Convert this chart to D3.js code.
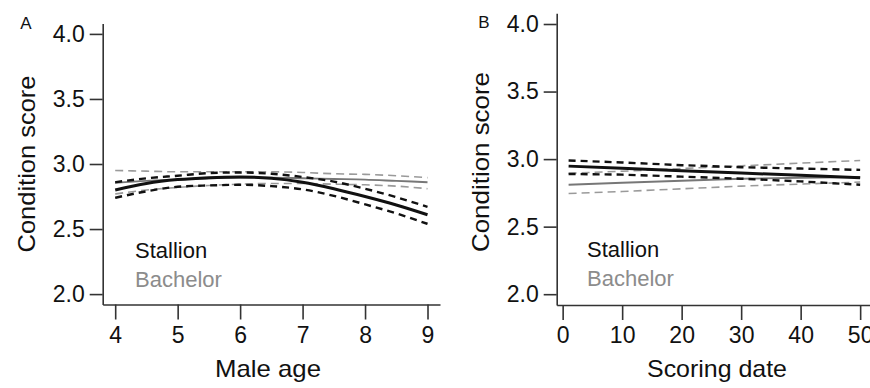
<!DOCTYPE html>
<html>
<head>
<meta charset="utf-8">
<script src="https://cdn.jsdelivr.net/npm/d3@7"></script>
<style>
  body { margin: 0; background: #fff; }
  svg text { font-family: "Liberation Sans", Arial, sans-serif; }
</style>
</head>
<body>
<div id="chart"></div>
<script>
// Panel A: condition score vs male age
const ageX = [4, 4.5, 5, 5.5, 6, 6.5, 7, 7.5, 8, 8.5, 9];
const stallionAge   = [2.80, 2.85, 2.88, 2.895, 2.90, 2.89, 2.86, 2.81, 2.75, 2.685, 2.61];
const stallionAgeHi = [2.86, 2.89, 2.91, 2.93, 2.935, 2.925, 2.90, 2.865, 2.81, 2.745, 2.67];
const stallionAgeLo = [2.74, 2.79, 2.825, 2.835, 2.84, 2.83, 2.805, 2.755, 2.69, 2.62, 2.54];
const bachelorAge   = [2.855, 2.87, 2.88, 2.89, 2.895, 2.895, 2.89, 2.885, 2.88, 2.87, 2.86];
const bachelorAgeHi = [2.95, 2.945, 2.94, 2.94, 2.94, 2.94, 2.935, 2.925, 2.92, 2.91, 2.895];
const bachelorAgeLo = [2.77, 2.80, 2.82, 2.835, 2.845, 2.85, 2.85, 2.845, 2.84, 2.83, 2.81];

// Panel B: condition score vs scoring date
const dateX = [1, 10, 20, 30, 40, 50];
const stallionDate   = [2.948, 2.932, 2.913, 2.897, 2.88, 2.862];
const stallionDateHi = [2.99, 2.975, 2.955, 2.94, 2.93, 2.92];
const stallionDateLo = [2.89, 2.885, 2.87, 2.855, 2.835, 2.81];
const bachelorDate   = [2.81, 2.825, 2.84, 2.855, 2.862, 2.868];
const bachelorDateHi = [2.895, 2.91, 2.93, 2.95, 2.97, 2.99];
const bachelorDateLo = [2.745, 2.76, 2.78, 2.80, 2.815, 2.83];

const yTicks = [2.0, 2.5, 3.0, 3.5, 4.0];
const ageTicks = [4, 5, 6, 7, 8, 9];
const dateTicks = [0, 10, 20, 30, 40, 50];
const legendLabels = ["Stallion", "Bachelor"];

const width = 870, height = 388;
const BLACK = "#111", GREY = "#8c8c8c";

const svg = d3.select("#chart").append("svg")
    .attr("width", width)
    .attr("height", height);

const buildPanel = (cfg) => {
    const x = d3.scaleLinear().domain(cfg.xDomain).range(cfg.xRange);
    const y = d3.scaleLinear().domain([1.92, 4.08]).range(cfg.yRange);
    const g = svg.append("g");

    // axes
    const yAxis = d3.axisLeft(y).tickValues(yTicks).tickFormat(d3.format(".1f"))
        .tickSize(13).tickSizeOuter(0).tickPadding(5);
    const xAxis = d3.axisBottom(x).tickValues(cfg.xTicks).tickFormat(d3.format("d"))
        .tickSize(15).tickSizeOuter(0).tickPadding(7);

    g.append("g").attr("transform", `translate(${cfg.xRange[0]},0)`).call(yAxis);
    g.append("g").attr("transform", `translate(0,${cfg.yRange[0]})`).call(xAxis);
    g.selectAll(".domain, .tick line").attr("stroke", "#333").attr("stroke-width", 1.6);
    g.selectAll(".tick text").attr("fill", BLACK).style("font-size", "23px");

    // lines
    const line = d3.line()
        .x((d, i) => x(cfg.xs[i]))
        .y(d => y(d))
        .curve(cfg.curve);

    const series = [
        { v: cfg.bachHi, color: "#9a9a9a", w: 1.6, dash: "8,5" },
        { v: cfg.bachLo, color: "#9a9a9a", w: 1.6, dash: "8,5" },
        { v: cfg.bach, color: "#777", w: 1.9, dash: null },
        { v: cfg.stalHi, color: BLACK, w: 2.4, dash: "7,5" },
        { v: cfg.stalLo, color: BLACK, w: 2.4, dash: "7,5" },
        { v: cfg.stal, color: BLACK, w: 3, dash: null }
    ];
    g.selectAll("path.series")
        .data(series)
        .join("path")
        .attr("class", "series")
        .attr("d", d => line(d.v))
        .attr("fill", "none")
        .attr("stroke", d => d.color)
        .attr("stroke-width", d => d.w)
        .attr("stroke-dasharray", d => d.dash);

    // legend
    g.selectAll("text.legend")
        .data(legendLabels)
        .join("text")
        .attr("class", "legend")
        .attr("x", cfg.legendX)
        .attr("y", (d, i) => cfg.legendY + i * 29)
        .attr("fill", (d, i) => i === 0 ? BLACK : GREY)
        .style("font-size", "22px")
        .text(d => d);

    // axis titles
    g.append("text")
        .attr("x", cfg.xTitle[0]).attr("y", 377)
        .attr("text-anchor", "middle")
        .attr("textLength", cfg.xTitle[1]).attr("lengthAdjust", "spacingAndGlyphs")
        .attr("fill", BLACK).style("font-size", "24px")
        .text(cfg.xLabel);

    g.append("text")
        .attr("transform", `translate(${cfg.yTitle[0]},${cfg.yTitle[1]}) rotate(-90)`)
        .attr("text-anchor", "middle")
        .attr("textLength", cfg.yTitle[2]).attr("lengthAdjust", "spacingAndGlyphs")
        .attr("fill", BLACK).style("font-size", "24px")
        .text("Condition score");

    // panel letter
    g.append("text")
        .attr("x", cfg.letter[0]).attr("y", cfg.letter[1])
        .attr("text-anchor", "middle")
        .attr("fill", BLACK).style("font-size", "17px")
        .text(cfg.letter[2]);
};

buildPanel({
    xDomain: [3.8, 9.2], xRange: [102.7, 440], yRange: [304.5, 23.5],
    xTicks: ageTicks, xs: ageX, curve: d3.curveMonotoneX,
    stal: stallionAge, stalHi: stallionAgeHi, stalLo: stallionAgeLo,
    bach: bachelorAge, bachHi: bachelorAgeHi, bachLo: bachelorAgeLo,
    legendX: 135, legendY: 258,
    xLabel: "Male age", xTitle: [268, 106],
    yTitle: [35, 164, 177],
    letter: [26, 29, "A"]
});

buildPanel({
    xDomain: [-1, 53], xRange: [556.7, 878], yRange: [305, 13.2],
    xTicks: dateTicks, xs: dateX, curve: d3.curveLinear,
    stal: stallionDate, stalHi: stallionDateHi, stalLo: stallionDateLo,
    bach: bachelorDate, bachHi: bachelorDateHi, bachLo: bachelorDateLo,
    legendX: 587, legendY: 257,
    xLabel: "Scoring date", xTitle: [717, 140],
    yTitle: [489, 162, 180],
    letter: [484, 28, "B"]
});
</script>
</body>
</html>
